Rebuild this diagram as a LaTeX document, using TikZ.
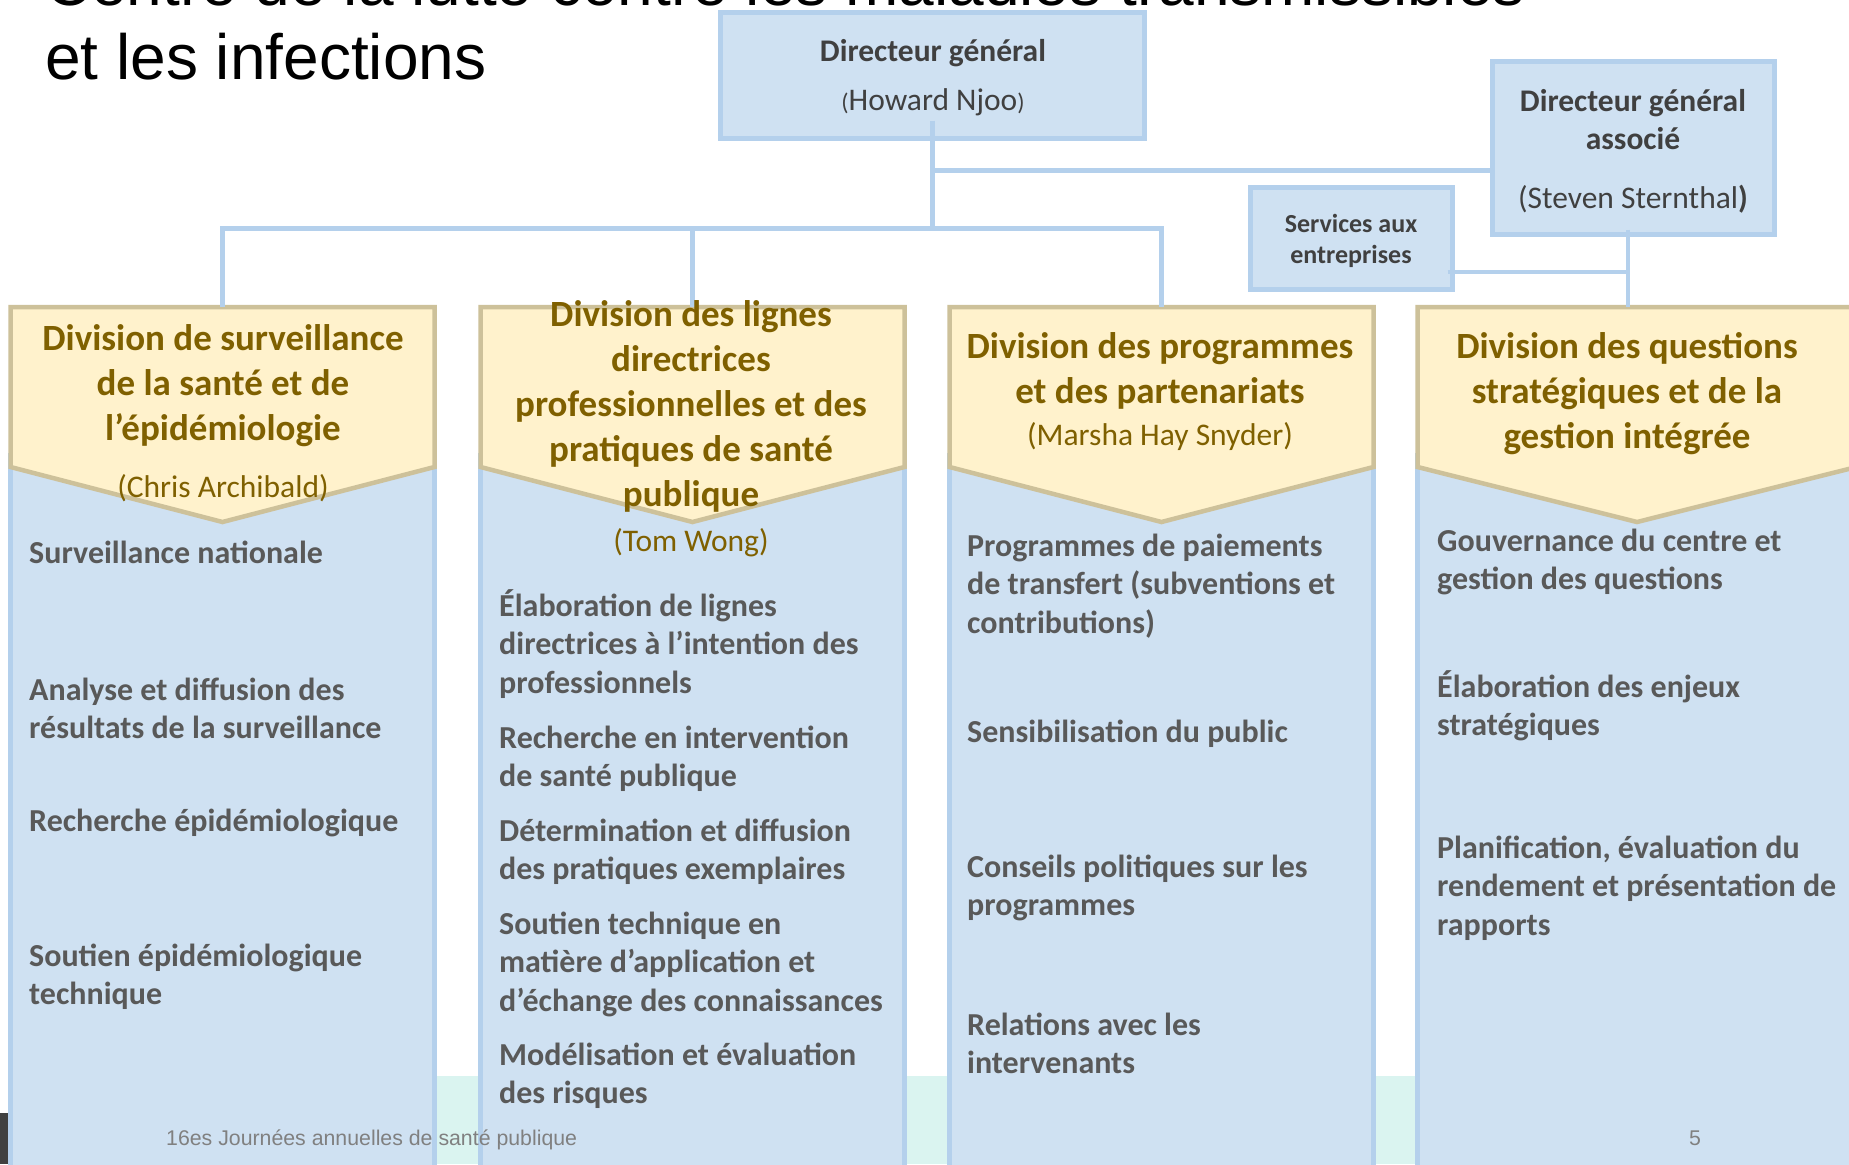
\documentclass[tikz,border=0pt]{standalone}
\usepackage{fontspec}
\setmainfont{Carlito}
\newfontfamily\arialf{Liberation Sans}
\usetikzlibrary{calc}
\definecolor{boxfill}{RGB}{207,225,242}
\definecolor{boxline}{RGB}{180,208,236}
\definecolor{penfill}{RGB}{255,242,204}
\definecolor{penline}{RGB}{205,193,154}
\definecolor{hdtext}{RGB}{127,96,0}
\definecolor{bodytext}{RGB}{89,89,89}
\definecolor{boxtext}{RGB}{64,64,64}
\definecolor{mint}{RGB}{218,244,240}
\definecolor{footgray}{RGB}{128,128,128}
\definecolor{darkbar}{RGB}{64,64,64}
\newcommand{\hdrtext}[1]{\parbox[t]{440pt}{\centering\bfseries\fontsize{37}{45}\selectfont #1}}
\newcommand{\itemtext}[1]{\parbox[t]{440pt}{\raggedright\bfseries\fontsize{32}{38.7}\selectfont #1}}
\newcommand{\boxtxt}[1]{\parbox[t]{300pt}{\centering\fontsize{31.5}{38}\selectfont #1}}
\begin{document}
\begin{tikzpicture}[x=1pt,y=-1pt,
  topbox/.style={draw=boxline, fill=boxfill, line width=5pt, inner sep=0pt, outer sep=0pt},
  colbox/.style={draw=boxline, fill=boxfill, line width=4.5pt},
  hdrarea/.style={inner sep=0pt, outer sep=0pt, minimum height=160pt, anchor=north west},
  pent/.style={draw=penline, fill=penfill, line width=4.5pt, line join=miter},
  link/.style={draw=boxline, line width=4.5pt},
  hdr/.style={inner sep=0pt, anchor=base, text=hdtext},
  hname/.style={inner sep=0pt, anchor=base, text=hdtext, font=\fontsize{31.5}{38}\selectfont},
  itm/.style={inner sep=0pt, anchor=base west, text=bodytext},
  btxt/.style={inner sep=0pt, anchor=base, text=boxtext},
]
\useasboundingbox (0,0) rectangle (1849,1164);
\clip (0,0) rectangle (1849,1164);
\fill[white] (0,0) rectangle (1849,1164);

% footer band
\fill[mint] (8,1076) rectangle (1849,1164);
\fill[darkbar] (0,1113) rectangle (8,1164);

% title
\node[inner sep=0pt, anchor=base west, font=\arialf\fontsize{64}{72}\selectfont] (t1) at (45,6) {Centre de la lutte contre les maladies transmissibles};
\node[inner sep=0pt, anchor=base west, font=\arialf\fontsize{64}{72}\selectfont] (t2) at (45,79) {et les infections};

% columns
\draw[colbox] (10.5,455) rectangle (434.5,1200);
\draw[colbox] (480.5,455) rectangle (904.5,1200);
\draw[colbox] (949.5,455) rectangle (1373.5,1200);
\draw[colbox] (1417.5,455) rectangle (1856.5,1200);

% division headers (pentagons)
\node[hdrarea, minimum width=424pt] (d1) at (10.5,307) {};
\node[hdrarea, minimum width=424pt] (d2) at (480.5,307) {};
\node[hdrarea, minimum width=424pt] (d3) at (949.5,307) {};
\node[hdrarea, minimum width=439pt] (d4) at (1417.5,307) {};
\foreach \d in {d1,d2,d3,d4}{
  \draw[pent] (\d.north west) -- (\d.north east) -- (\d.south east) -- ($(\d.south)+(0,55)$) -- (\d.south west) -- cycle;
}

% top boxes
\node[topbox, minimum width=424pt, minimum height=126pt] (dg) at (932.5,75.5) {};
\node[topbox, minimum width=282pt, minimum height=173pt] (ag) at (1633.5,148) {};
\node[topbox, minimum width=202pt, minimum height=102pt] (sv) at (1351.5,238.5) {};

% connectors
\coordinate (j1) at ($(dg.south)+(0,90)$);
\coordinate (j2) at ($(dg.south)+(0,32)$);
\coordinate (j3) at (1628,272);
\draw[link] ($(dg.south)+(0,-18)$) -- (j1);
\draw[link] (d1.north) -- (d1.north |- j1) -- (d3.north |- j1) -- (d3.north);
\draw[link] (d2.north |- j1) -- (d2.north);
\draw[link] (j2) -- (j2 -| ag.west);
\draw[link] ($(j3 |- ag.south)+(0,-5)$) -- (j3 |- d4.north);
\draw[link] ($(sv.east |- j3)+(-5,0)$) -- (j3);

% top box texts
\node[btxt, font=\bfseries\fontsize{31.5}{38}\selectfont] (dgt1) at (933,62) {Directeur général};
\node[btxt, font=\fontsize{31.5}{38}\selectfont] (dgt2) at (933,110) {{\fontsize{24}{24}\selectfont(}Howard Njoo{\fontsize{24}{24}\selectfont)}};
\node[btxt] (agt) at (1633,111) {\boxtxt{\bfseries Directeur général\\associé}};
\node[btxt, font=\fontsize{31.5}{38}\selectfont] (agn) at (1633,208) {(Steven Sternthal\textbf{)}};
\node[btxt] (svt) at (1351,232) {\parbox[t]{200pt}{\centering\bfseries\fontsize{26}{31}\selectfont Services aux\\entreprises}};

% division titles
\node[hdr] (h1) at (223,350) {\hdrtext{Division de surveillance\\de la santé et de\\l’épidémiologie}};
\node[hname] (n1) at (223,497) {(Chris Archibald)};
\node[hdr] (h2) at (691,326) {\hdrtext{Division des lignes\\directrices\\professionnelles et des\\pratiques de santé\\publique}};
\node[hname] (n2) at (691,551) {(Tom Wong)};
\node[hdr] (h3) at (1160,358) {\hdrtext{Division des programmes\\et des partenariats}};
\node[hname] (n3) at (1160,445) {(Marsha Hay Snyder)};
\node[hdr] (h4) at (1627,358) {\hdrtext{Division des questions\\stratégiques et de la\\gestion intégrée}};

% column items
\node[itm] (i11) at (29,563) {\itemtext{Surveillance nationale}};
\node[itm] (i12) at (29,700) {\itemtext{Analyse et diffusion des\\résultats de la surveillance}};
\node[itm] (i13) at (29,831) {\itemtext{Recherche épidémiologique}};
\node[itm] (i14) at (29,966) {\itemtext{Soutien épidémiologique\\technique}};

\node[itm] (i21) at (499,616) {\itemtext{Élaboration de lignes\\directrices à l’intention des\\professionnels}};
\node[itm] (i22) at (499,748) {\itemtext{Recherche en intervention\\de santé publique}};
\node[itm] (i23) at (499,841) {\itemtext{Détermination et diffusion\\des pratiques exemplaires}};
\node[itm] (i24) at (499,934) {\itemtext{Soutien technique en\\matière d’application et\\d’échange des connaissances}};
\node[itm] (i25) at (499,1065) {\itemtext{Modélisation et évaluation\\des risques}};

\node[itm] (i31) at (967,556) {\itemtext{Programmes de paiements\\de transfert (subventions et\\contributions)}};
\node[itm] (i32) at (967,742) {\itemtext{Sensibilisation du public}};
\node[itm] (i33) at (967,877) {\itemtext{Conseils politiques sur les\\programmes}};
\node[itm] (i34) at (967,1035) {\itemtext{Relations avec les\\intervenants}};

\node[itm] (i41) at (1437,551) {\itemtext{Gouvernance du centre et\\gestion des questions}};
\node[itm] (i42) at (1437,697) {\itemtext{Élaboration des enjeux\\stratégiques}};
\node[itm] (i43) at (1437,858) {\itemtext{Planification, évaluation du\\rendement et présentation de\\rapports}};

% footer
\node[inner sep=0pt, anchor=base west, text=footgray, font=\arialf\fontsize{21.3}{25}\selectfont] (ft) at (166,1145) {16es Journées annuelles de santé publique};
\node[inner sep=0pt, anchor=base, text=footgray, font=\arialf\fontsize{21.3}{25}\selectfont] (pg) at (1695,1145) {5};
\end{tikzpicture}
\end{document}
